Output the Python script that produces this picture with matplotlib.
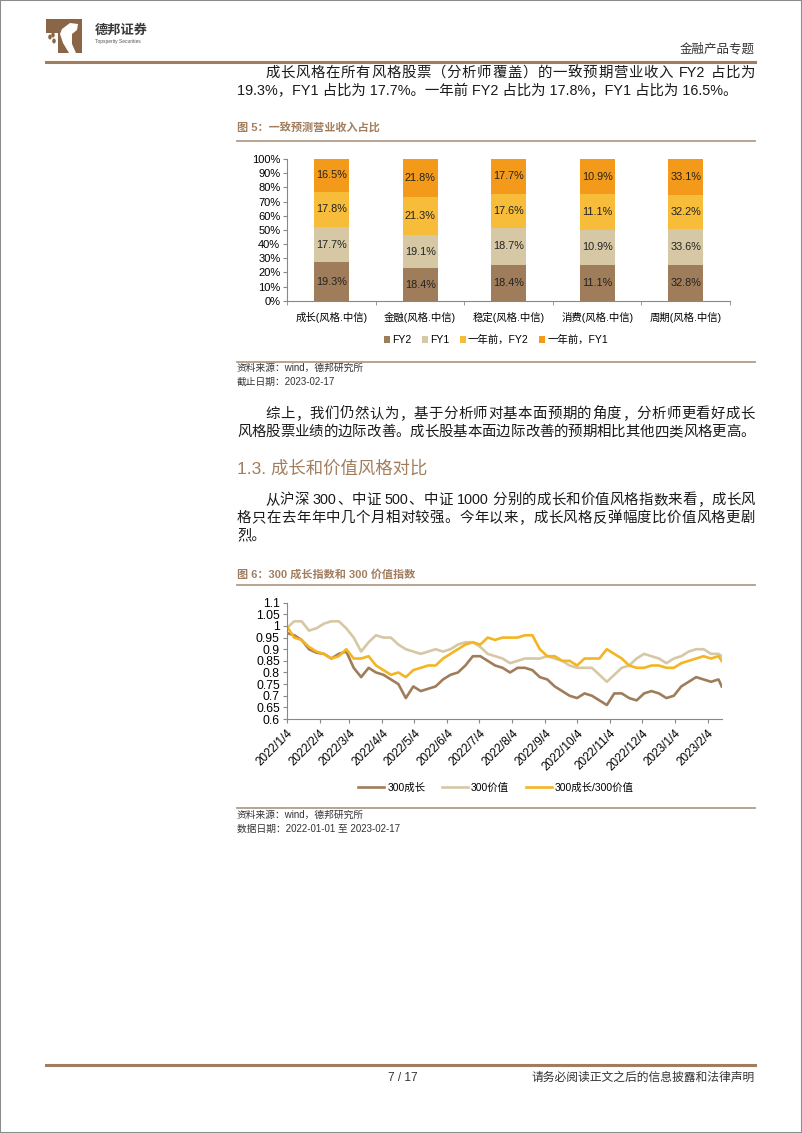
import re
import matplotlib
matplotlib.use("Agg")
import matplotlib.pyplot as plt
from matplotlib.lines import Line2D
from matplotlib.patches import Rectangle, Polygon, Circle
import numpy as np
import pandas as pd

plt.rcParams["font.family"] = ["Liberation Sans", "Noto Sans CJK SC"]

W, H = 802, 1133

# ---- figure 5: stacked share of consensus revenue ----
categories = ["成长(风格.中信)", "金融(风格.中信)", "稳定(风格.中信)",
              "消费(风格.中信)", "周期(风格.中信)"]
bar_series = ["FY2", "FY1", "一年前，FY2", "一年前，FY1"]
fy2 = [19.3, 18.4, 18.4, 11.1, 32.8]
fy1 = [17.7, 19.1, 18.7, 10.9, 33.6]
prev_fy2 = [17.8, 21.3, 17.6, 11.1, 32.2]
prev_fy1 = [16.5, 21.8, 17.7, 10.9, 33.1]
bar_colors = ["#A07D5A", "#D6C8A5", "#F6BC3A", "#F39A1A"]

# ---- figure 6: 300 growth vs 300 value (weekly readings) ----
line_dates = list(pd.date_range("2022-01-04", "2023-02-14", freq="7D")) + [pd.Timestamp("2023-02-17")]
growth = [0.97, 0.96, 0.94, 0.90, 0.885, 0.88, 0.86, 0.88, 0.89, 0.82,
          0.78, 0.82, 0.80, 0.79, 0.77, 0.75, 0.69, 0.74, 0.72, 0.73,
          0.74, 0.77, 0.79, 0.80, 0.83, 0.87, 0.87, 0.85, 0.83, 0.82,
          0.80, 0.82, 0.82, 0.81, 0.78, 0.77, 0.74, 0.72, 0.70, 0.69,
          0.71, 0.70, 0.68, 0.66, 0.71, 0.71, 0.69, 0.68, 0.71, 0.72,
          0.71, 0.69, 0.70, 0.74, 0.76, 0.78, 0.77, 0.76, 0.77, 0.74]
value = [0.99, 1.02, 1.02, 0.98, 0.99, 1.01, 1.02, 1.02, 0.99, 0.95,
         0.89, 0.93, 0.96, 0.95, 0.95, 0.92, 0.90, 0.89, 0.88, 0.89,
         0.90, 0.89, 0.90, 0.92, 0.93, 0.93, 0.91, 0.88, 0.87, 0.86,
         0.84, 0.85, 0.86, 0.86, 0.86, 0.87, 0.86, 0.85, 0.83, 0.82,
         0.82, 0.82, 0.79, 0.76, 0.79, 0.82, 0.83, 0.86, 0.88, 0.87,
         0.86, 0.84, 0.86, 0.87, 0.89, 0.90, 0.90, 0.88, 0.88, 0.87]
ratio = [1.00, 0.95, 0.94, 0.91, 0.89, 0.88, 0.86, 0.87, 0.90, 0.86,
         0.86, 0.87, 0.83, 0.81, 0.79, 0.80, 0.78, 0.81, 0.82, 0.83,
         0.83, 0.86, 0.88, 0.90, 0.92, 0.93, 0.92, 0.95, 0.94, 0.95,
         0.95, 0.95, 0.96, 0.96, 0.90, 0.87, 0.87, 0.85, 0.85, 0.83,
         0.86, 0.86, 0.86, 0.90, 0.88, 0.86, 0.83, 0.82, 0.82, 0.83,
         0.83, 0.82, 0.82, 0.84, 0.85, 0.86, 0.87, 0.86, 0.87, 0.85]
line_names = ["300成长", "300价值", "300成长/300价值"]
line_colors = ["#A07D5A", "#D6C8A5", "#F5B522"]
date_ticks = ["2022/1/4", "2022/2/4", "2022/3/4", "2022/4/4", "2022/5/4", "2022/6/4",
              "2022/7/4", "2022/8/4", "2022/9/4", "2022/10/4", "2022/11/4",
              "2022/12/4", "2023/1/4", "2023/2/4"]
y_ticks = [0.6, 0.65, 0.7, 0.75, 0.8, 0.85, 0.9, 0.95, 1, 1.05, 1.1]

BROWN = "#A27E5E"
TEXT = "#1a1a1a"

fig = plt.figure(figsize=(W / 100, H / 100), dpi=100)


def fx(x):
    return x / W


def fy(y):
    return 1 - y / H


def put(x, y, s, size=10.4, **kw):
    kw.setdefault("color", TEXT)
    kw.setdefault("va", "center")
    return fig.text(fx(x), fy(y), s, fontsize=size, **kw)


def hline(y, x0, x1, color, lw):
    fig.add_artist(Line2D([fx(x0), fx(x1)], [fy(y), fy(y)], color=color, lw=lw))


def justify(y, x0, x1, s, size=10.4):
    # spread tokens so the line fills x0..x1 like the justified source text
    r = fig.canvas.get_renderer()
    em = size * 100 / 72
    toks = re.findall(r"[A-Za-z0-9.%]+| |.", s)
    arts, widths = [], []
    for t in toks:
        if t == " ":
            arts.append(None)
            widths.append(em * 0.28)
        elif re.match(r"[A-Za-z0-9.%]", t):
            a = put(0, y, t, size)
            arts.append(a)
            widths.append(a.get_window_extent(r).width)
        else:
            a = put(0, y, t, size)
            arts.append(a)
            widths.append(em)
    gap = (x1 - x0 - sum(widths)) / (len(toks) - 1)
    x = x0
    for a, w in zip(arts, widths):
        if a is not None:
            a.set_x(fx(x))
        x += w + gap


# page frame
fig.add_artist(Rectangle((0, 0), 1, 1, transform=fig.transFigure, fill=False,
                         edgecolor="#8c8c8c", lw=1.5))

# logo
logo = Polygon([(fx(46), fy(19)), (fx(82), fy(19)), (fx(82), fy(53)), (fx(58), fy(53)),
                (fx(58), fy(33)), (fx(46), fy(33))], closed=True,
               transform=fig.transFigure, facecolor="#8A6546", edgecolor="none")
fig.add_artist(logo)
dog = Polygon([(fx(62), fy(29)), (fx(70), fy(23)), (fx(78), fy(24)), (fx(77), fy(30)),
               (fx(72), fy(34)), (fx(72), fy(44)), (fx(76), fy(53)), (fx(69), fy(53)),
               (fx(63), fy(43)), (fx(60), fy(34))], closed=True,
              transform=fig.transFigure, facecolor="white", edgecolor="none")
fig.add_artist(dog)
for cx, cy in [(50, 37), (54, 41), (53, 35)]:
    fig.add_artist(Circle((fx(cx), fy(cy)), 0.0022, transform=fig.transFigure,
                          facecolor="#8A6546", edgecolor="none"))
put(95, 31, "德邦证券", 9.5, weight="bold", color="#3a3a3a")
put(95, 42, "Topsperity Securities", 3.5, color="#555555")
put(755, 49, "金融产品专题", 9, ha="right", color="#333333")
hline(62, 46, 755, BROWN, 2.2)

# paragraph 1
justify(73, 265, 755, "成长风格在所有风格股票（分析师覆盖）的一致预期营业收入 FY2 占比为")
put(237, 91, "19.3%，FY1 占比为 17.7%。一年前 FY2 占比为 17.8%，FY1 占比为 16.5%。")

# figure 5 title
put(237, 128, "图 5：一致预测营业收入占比", 8, weight="bold", color=BROWN)
hline(141, 237, 755, "#B39C88", 1.3)

ax1 = fig.add_axes([fx(287.3), fy(300.7), fx(730) - fx(287.3), (300.7 - 159) / H])
raw = np.array([fy2, fy1, prev_fy2, prev_fy1])
shares = raw / raw.sum(axis=0)
xpos = np.arange(len(categories))
bottom = np.zeros(len(categories))
for i, name in enumerate(bar_series):
    ax1.bar(xpos, shares[i], 0.395, bottom=bottom, color=bar_colors[i], label=name)
    for j in range(len(categories)):
        ax1.text(xpos[j], bottom[j] + shares[i][j] / 2, f"{raw[i][j]}%",
                 ha="center", va="center", fontsize=7.8, color="#222222")
    bottom += shares[i]
ax1.set_xlim(-0.5, len(categories) - 0.5)
ax1.set_ylim(0, 1)
ax1.set_yticks(np.arange(0, 1.01, 0.1))
ax1.set_yticklabels([f"{int(round(v * 100))}%" for v in np.arange(0, 1.01, 0.1)], fontsize=8)
ax1.set_xticks(xpos)
ax1.set_xticklabels(categories, fontsize=7.5)
ax1.set_xticks(np.arange(-0.5, len(categories)), minor=True)
ax1.tick_params(axis="x", which="major", length=0, pad=8)
ax1.tick_params(axis="x", which="minor", length=3, color="#888888")
ax1.tick_params(axis="y", length=3, color="#888888", pad=2)
for s in ["top", "right"]:
    ax1.spines[s].set_visible(False)
for s in ["left", "bottom"]:
    ax1.spines[s].set_color("#888888")
    ax1.spines[s].set_linewidth(0.8)
fig.legend(*ax1.get_legend_handles_labels(), loc="center",
           bbox_to_anchor=(fx(496), fy(340)), ncol=4, frameon=False, fontsize=7.5,
           handlelength=0.6, handleheight=0.6, handletextpad=0.2, columnspacing=1.0)

hline(362, 237, 755, "#B39C88", 1.3)
put(237, 368, "资料来源：wind，德邦研究所", 7, color="#333333")
put(237, 382, "截止日期：2023-02-17", 7, color="#333333")

# paragraph 2
justify(414, 265, 755, "综上，我们仍然认为，基于分析师对基本面预期的角度，分析师更看好成长")
justify(432, 237, 755, "风格股票业绩的边际改善。成长股基本面边际改善的预期相比其他四类风格更高。")

put(237, 468, "1.3. 成长和价值风格对比", 12.5, color=BROWN)

justify(500, 265, 755, "从沪深 300、中证 500、中证 1000 分别的成长和价值风格指数来看，成长风")
justify(518, 237, 755, "格只在去年年中几个月相对较强。今年以来，成长风格反弹幅度比价值风格更剧")
put(237, 535, "烈。")

# figure 6
put(237, 574, "图 6：300 成长指数和 300 价值指数", 8, weight="bold", color=BROWN)
hline(585, 237, 755, "#B39C88", 1.3)

ax2 = fig.add_axes([fx(286.7), fy(719), fx(721.7) - fx(286.7), (719 - 602.7) / H])
for vals, name, c in zip([growth, value, ratio], line_names, line_colors):
    ax2.plot(line_dates, vals, color=c, lw=1.9, label=name)
ax2.set_xlim(pd.Timestamp("2022-01-04"), pd.Timestamp("2023-02-17"))
ax2.set_ylim(0.6, 1.1)
ax2.set_yticks(y_ticks)
ax2.set_yticklabels([f"{v:g}" for v in y_ticks], fontsize=8.8)
tick_dates = pd.to_datetime(date_ticks, format="%Y/%m/%d")
ax2.set_xticks(tick_dates)
ax2.set_xticklabels(date_ticks, fontsize=8.5, rotation=45, ha="right", rotation_mode="anchor")
ax2.tick_params(axis="x", length=3, color="#888888", pad=3)
ax2.tick_params(axis="y", length=3, color="#888888", pad=2)
for s in ["top", "right"]:
    ax2.spines[s].set_visible(False)
for s in ["left", "bottom"]:
    ax2.spines[s].set_color("#888888")
    ax2.spines[s].set_linewidth(0.8)
fig.legend(*ax2.get_legend_handles_labels(), loc="center",
           bbox_to_anchor=(fx(496), fy(788)), ncol=3, frameon=False, fontsize=7.5,
           handlelength=2.5, handletextpad=0.3, columnspacing=1.6)

hline(808, 237, 755, "#B39C88", 1.3)
put(237, 815, "资料来源：wind，德邦研究所", 7, color="#333333")
put(237, 829, "数据日期：2022-01-01 至 2023-02-17", 7, color="#333333")

# footer
hline(1065, 46, 755, BROWN, 2.2)
put(403, 1078, "7 / 17", 8.5, ha="center", color="#333333")
put(755, 1078, "请务必阅读正文之后的信息披露和法律声明", 8.5, ha="right", color="#333333")

fig.savefig("out.png", dpi=100)
